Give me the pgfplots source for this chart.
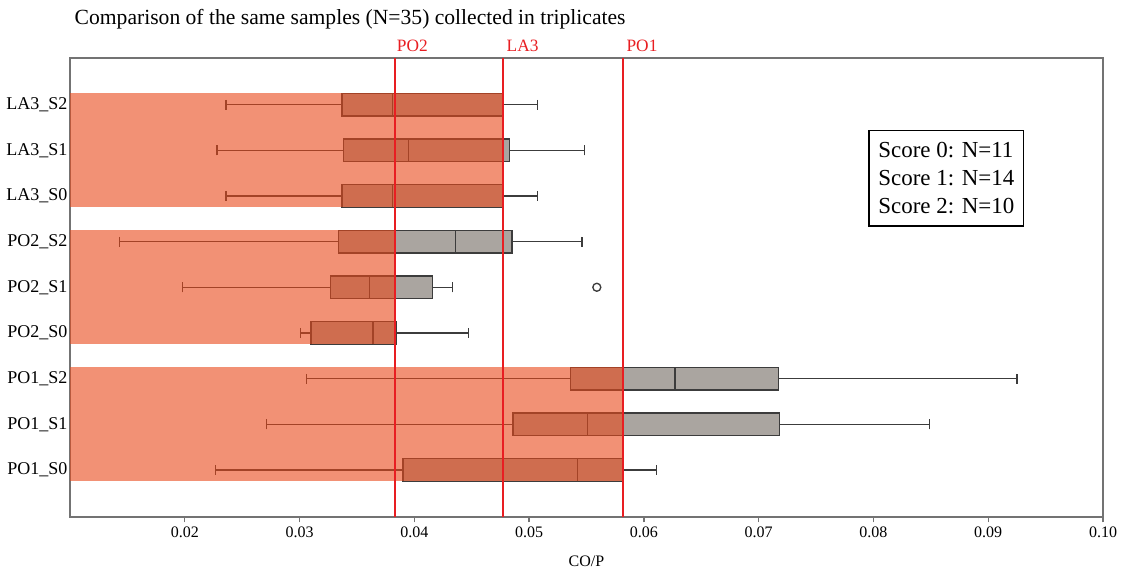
\documentclass[border=0pt]{standalone}
\usepackage{fontspec}
\setmainfont{Liberation Serif}
\usepackage{pgfplots}
\usepgfplotslibrary{statistics}
\pgfplotsset{compat=1.18}

\definecolor{band}{RGB}{233,72,25}
\definecolor{boxgray}{RGB}{170,165,160}
\definecolor{boxline}{RGB}{60,60,60}
\definecolor{refred}{RGB}{232,30,34}
\definecolor{frame}{RGB}{115,115,115}

\begin{document}
\begin{tikzpicture}
\begin{axis}[
    scale only axis, width=774.75pt, height=344.25pt,
    xmin=0.01, xmax=0.10, ymin=-1.03, ymax=9.02,
    clip=false,
    scaled x ticks=false,
    xtick={0.02,0.03,0.04,0.05,0.06,0.07,0.08,0.09,0.10},
    /pgf/number format/assume math mode=true,
    xticklabel style={font=\fontsize{12}{12}\selectfont,
        /pgf/number format/fixed, /pgf/number format/fixed zerofill,
        /pgf/number format/precision=2},
    ytick={0,1,2,3,4,5,6,7,8},
    yticklabels={PO1\_S0,PO1\_S1,PO1\_S2,PO2\_S0,PO2\_S1,PO2\_S2,LA3\_S0,LA3\_S1,LA3\_S2},
    yticklabel style={font=\fontsize{13.5}{13.5}\selectfont, xshift=5.5pt},
    ytick style={draw=none},
    tick align=outside, xtick pos=bottom, ytick pos=left,
    major tick length=4pt,
    xtick style={frame, line width=1pt},
    axis line style={frame, line width=1.5pt},
    xlabel={CO/P},
    xlabel style={font=\fontsize{12}{12}\selectfont, yshift=-7pt},
    boxplot/draw direction=x,
    boxplot/box extend=0.5,
    boxplot/whisker extend=0.22,
    boxplot/every whisker/.style={line width=0.9pt},
    boxplot/every box/.style={line width=1pt},
    boxplot/every median/.style={line width=1pt},
]
% boxes: PO1
\addplot[boxplot prepared={draw position=0, lower whisker=0.0227, lower quartile=0.0390,
    median=0.0542, upper quartile=0.0582, upper whisker=0.0611},
    draw=boxline, fill=boxgray, line width=1pt] coordinates {};
\addplot[boxplot prepared={draw position=1, lower whisker=0.0271, lower quartile=0.0486,
    median=0.0551, upper quartile=0.0718, upper whisker=0.0849},
    draw=boxline, fill=boxgray, line width=1pt] coordinates {};
\addplot[boxplot prepared={draw position=2, lower whisker=0.0306, lower quartile=0.0536,
    median=0.0627, upper quartile=0.0717, upper whisker=0.0925},
    draw=boxline, fill=boxgray, line width=1pt] coordinates {};
% PO2
\addplot[boxplot prepared={draw position=3, lower whisker=0.0301, lower quartile=0.0310,
    median=0.0364, upper quartile=0.0384, upper whisker=0.0447},
    draw=boxline, fill=boxgray, line width=1pt] coordinates {};
\addplot[boxplot prepared={draw position=4, lower whisker=0.0198, lower quartile=0.0327,
    median=0.0361, upper quartile=0.0416, upper whisker=0.0433},
    draw=boxline, fill=boxgray, line width=1pt] coordinates {};
\addplot[boxplot prepared={draw position=5, lower whisker=0.0143, lower quartile=0.0334,
    median=0.0436, upper quartile=0.0485, upper whisker=0.0546},
    draw=boxline, fill=boxgray, line width=1pt] coordinates {};
% LA3
\addplot[boxplot prepared={draw position=6, lower whisker=0.0236, lower quartile=0.0337,
    median=0.0381, upper quartile=0.0477, upper whisker=0.0507},
    draw=boxline, fill=boxgray, line width=1pt] coordinates {};
\addplot[boxplot prepared={draw position=7, lower whisker=0.0228, lower quartile=0.0338,
    median=0.0395, upper quartile=0.0483, upper whisker=0.0548},
    draw=boxline, fill=boxgray, line width=1pt] coordinates {};
\addplot[boxplot prepared={draw position=8, lower whisker=0.0236, lower quartile=0.0337,
    median=0.0381, upper quartile=0.0477, upper whisker=0.0507},
    draw=boxline, fill=boxgray, line width=1pt] coordinates {};
% outlier
\addplot[only marks, mark=o, mark size=3pt, boxline, line width=1pt] coordinates {(0.0559,4)};

% shaded bands up to each reference line
\addplot[draw=none, fill=band, fill opacity=0.6] coordinates
    {(0.01,-0.25) (0.0582,-0.25) (0.0582,2.25) (0.01,2.25)} -- cycle;
\addplot[draw=none, fill=band, fill opacity=0.6] coordinates
    {(0.01,2.75) (0.0383,2.75) (0.0383,5.25) (0.01,5.25)} -- cycle;
\addplot[draw=none, fill=band, fill opacity=0.6] coordinates
    {(0.01,5.75) (0.04775,5.75) (0.04775,8.25) (0.01,8.25)} -- cycle;

% reference lines
\addplot[refred, line width=1.5pt] coordinates {(0.0383,-1.03) (0.0383,9.02)};
\addplot[refred, line width=1.5pt] coordinates {(0.04775,-1.03) (0.04775,9.02)};
\addplot[refred, line width=1.5pt] coordinates {(0.0582,-1.03) (0.0582,9.02)};

\node[refred, anchor=base west, font=\fontsize{13}{13}\selectfont, xshift=-2pt, yshift=4.5pt]
    at (axis cs:0.0383,9.02) {PO2};
\node[refred, anchor=base west, font=\fontsize{13}{13}\selectfont, xshift=-1pt, yshift=4.5pt]
    at (axis cs:0.04775,9.02) {LA3};
\node[refred, anchor=base west, font=\fontsize{13}{13}\selectfont, xshift=-1pt, yshift=4.5pt]
    at (axis cs:0.0582,9.02) {PO1};

\node[draw=black, line width=1.2pt, anchor=north west, align=left,
      inner xsep=7pt, inner ysep=9pt,
      font=\fontsize{17.2}{21}\selectfont]
    at (axis cs:0.07955,7.45) {Score 0: N=11\\Score 1: N=14\\Score 2: N=10};
\end{axis}
\node[anchor=base west, font=\fontsize{16.2}{16.2}\selectfont]
    at (0pt,369pt) {Comparison of the same samples (N=35) collected in triplicates};
\pgfresetboundingbox
\path[use as bounding box] (-52.5pt,-42pt) rectangle (788.25pt,387.75pt);
\end{tikzpicture}
\end{document}
